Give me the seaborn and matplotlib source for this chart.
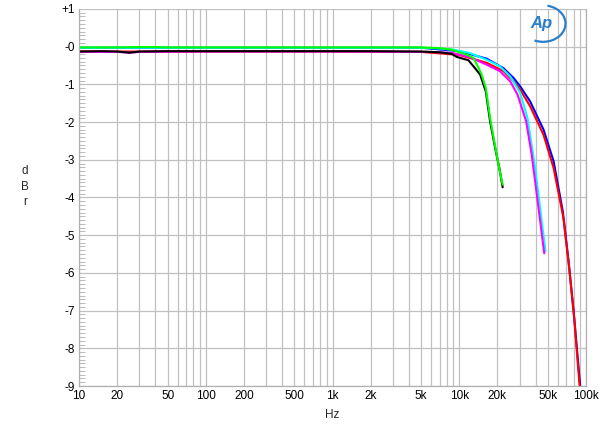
import numpy as np
import pandas as pd
import matplotlib
matplotlib.use("Agg")
import matplotlib.pyplot as plt
import matplotlib.ticker as mticker
from matplotlib.patches import Arc
import seaborn as sns

# ---- data (Hz, dBr) ----
black_hz = [10, 15, 20, 25, 30, 50, 100, 200, 500, 1000, 2000, 5000, 7000, 8700, 9500,
            10700, 11800, 13300, 14600, 16200, 17500, 19200, 20700, 22000]
black_db = [-0.13, -0.12, -0.13, -0.16, -0.13, -0.12, -0.12, -0.12, -0.12, -0.12, -0.12,
            -0.13, -0.15, -0.19, -0.27, -0.32, -0.36, -0.57, -0.74, -1.19, -1.98, -2.69,
            -3.22, -3.73]

green_hz = [10, 20, 30, 40, 50, 100, 200, 500, 1000, 2000, 5000, 7000, 8700, 11800,
            12900, 13900, 15000, 16200, 17500, 19200, 20900, 22000]
green_db = [-0.02, -0.02, -0.01, -0.01, -0.02, -0.02, -0.02, -0.02, -0.02, -0.02, -0.02,
            -0.04, -0.08, -0.23, -0.30, -0.50, -0.74, -1.10, -1.89, -2.65, -3.31, -3.66]

cyan_hz = [10, 20, 50, 100, 1000, 5000, 7000, 8900, 12100, 16500, 20900, 25200, 30200,
           34500, 39700, 44100, 47900]
cyan_db = [-0.03, -0.03, -0.03, -0.03, -0.03, -0.03, -0.05, -0.08, -0.17, -0.35, -0.52,
           -0.79, -1.22, -1.89, -3.22, -4.46, -5.43]

magenta_hz = [10, 20, 25, 30, 100, 1000, 5000, 7000, 8900, 12100, 16500, 20900, 25200,
              28800, 33700, 37300, 42200, 46800]
magenta_db = [-0.14, -0.14, -0.16, -0.14, -0.13, -0.13, -0.14, -0.15, -0.17, -0.28,
              -0.48, -0.65, -0.92, -1.27, -1.98, -2.87, -4.28, -5.48]

blue_hz = [10, 100, 1000, 5000, 10000, 16500, 22300, 26800, 30200, 36200, 46200, 55500,
           65600, 72900, 79900, 90000]
blue_db = [-0.03, -0.03, -0.03, -0.03, -0.12, -0.32, -0.57, -0.83, -1.05, -1.45, -2.20,
           -3.04, -4.37, -5.70, -7.03, -9.0]

red_hz = [10, 100, 1000, 5000, 10000, 16500, 22300, 26800, 30200, 36200, 46200, 55500,
          66400, 73700, 80700, 89000, 91000]
red_db = [-0.13, -0.13, -0.13, -0.14, -0.22, -0.43, -0.65, -0.92, -1.14, -1.58, -2.34,
          -3.22, -4.55, -5.88, -7.2, -9.0, -9.3]

x_ticks = [10, 20, 50, 100, 200, 500, 1000, 2000, 5000, 10000, 20000, 50000, 100000]
x_labels = ["10", "20", "50", "100", "200", "500", "1k", "2k", "5k", "10k", "20k",
            "50k", "100k"]
y_ticks = [1, 0, -1, -2, -3, -4, -5, -6, -7, -8, -9]
y_labels = ["+1", "-0", "-1", "-2", "-3", "-4", "-5", "-6", "-7", "-8", "-9"]

# ---- style ----
sns.set_theme(style="white")
plt.rcParams['font.family'] = ['Liberation Sans', 'DejaVu Sans']

fig = plt.figure(figsize=(6.0, 4.29), dpi=100)
ax = fig.add_axes([0.1317, 0.1002, 0.845, 0.879])

curves = [
    (blue_hz, blue_db, "#0000ff"),
    (red_hz, red_db, "#ff0000"),
    (cyan_hz, cyan_db, "#00ffff"),
    (magenta_hz, magenta_db, "#ff00ff"),
    (black_hz, black_db, "#000000"),
    (green_hz, green_db, "#00ff00"),
]
for hz, db, col in curves:
    sns.lineplot(x=hz, y=db, color=col, linewidth=1.5, sort=False, ax=ax)

ax.set_xscale("log")
ax.set_xlim(10, 100000)
ax.set_ylim(-9, 1)

ax.xaxis.set_major_locator(mticker.FixedLocator(x_ticks))
ax.xaxis.set_major_formatter(mticker.FixedFormatter(x_labels))
ax.xaxis.set_minor_locator(mticker.LogLocator(base=10, subs=np.arange(1, 10)))
ax.xaxis.set_minor_formatter(mticker.NullFormatter())
ax.yaxis.set_major_locator(mticker.FixedLocator(y_ticks))
ax.yaxis.set_major_formatter(mticker.FixedFormatter(y_labels))
ax.yaxis.set_minor_locator(mticker.MultipleLocator(0.1))

ax.grid(which="both", axis="x", color="#c0c0c0", linewidth=0.9)
ax.grid(which="major", axis="y", color="#c0c0c0", linewidth=0.9)
ax.set_axisbelow(True)

ax.tick_params(axis="both", which="major", length=0, labelsize=8.5, pad=3,
               colors="black")
ax.tick_params(axis="y", which="minor", direction="in", length=4, width=0.6,
               color="#b0b0b0", left=True)
ax.tick_params(axis="x", which="minor", length=0)

for side in ["left", "bottom", "right"]:
    ax.spines[side].set_color("#b0b0b0")
    ax.spines[side].set_linewidth(0.9)
ax.spines["top"].set_visible(False)

ax.set_xlabel("Hz", fontsize=8.5, labelpad=5)
ax.set_ylabel("")
fig.text(0.042, 0.565, "d\nB\nr", ha="center", va="center", fontsize=8.5,
         linespacing=1.35)

# Audio Precision logo
fig.text(0.902, 0.945, "Ap", color="#2a7fc9", fontsize=12, fontstyle="italic",
         fontweight="bold", ha="center", va="center")
fig.patches.append(Arc((0.905, 0.945), 0.075, 0.085, theta1=-110, theta2=80,
                       transform=fig.transFigure, color="#2a7fc9", linewidth=1.6))

fig.savefig("out.png", dpi=100)
